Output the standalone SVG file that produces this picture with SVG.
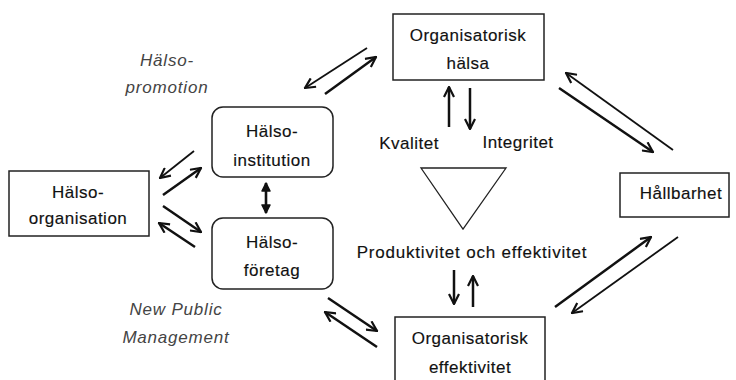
<svg xmlns="http://www.w3.org/2000/svg" width="736" height="380" viewBox="0 0 736 380">
<defs>
<style>
.box{fill:#fff;stroke:#222;stroke-width:1.5}
.t{font-family:"Liberation Sans",Arial,sans-serif;font-size:17px;letter-spacing:0.5px;fill:#111;stroke:#111;stroke-width:0.15;text-anchor:middle}
.it{font-family:"Liberation Sans",Arial,sans-serif;font-size:17px;font-style:italic;letter-spacing:0.8px;fill:#444;text-anchor:middle}
.a{fill:none;stroke:#111;stroke-width:1.8;marker-end:url(#h)}
.ab{fill:none;stroke:#111;stroke-width:2.5;marker-end:url(#h)}
</style>
<marker id="h" viewBox="0 0 12 12" refX="11" refY="6" markerWidth="12" markerHeight="12" markerUnits="userSpaceOnUse" orient="auto">
<path d="M1,1 L11,6 L1,11" fill="none" stroke="#111" stroke-width="2.2"/>
</marker>
<marker id="hf" viewBox="0 0 10 10" refX="9" refY="5" markerWidth="10" markerHeight="10" markerUnits="userSpaceOnUse" orient="auto-start-reverse">
<path d="M1,1 L9,5 L1,9 Z" fill="#111" stroke="#111" stroke-width="1.5" stroke-linejoin="round"/>
</marker>
</defs>
<rect width="736" height="380" fill="#fff"/>

<g id="organisatorisk-halsa">
<rect class="box" x="393" y="14" width="151" height="66"/>
<text class="t" x="468" y="41">Organisatorisk</text>
<text class="t" x="468" y="69">hälsa</text>
</g>

<g id="halso-institution">
<rect class="box" x="212" y="107" width="121" height="70" rx="11"/>
<text class="t" x="272" y="137">Hälso-</text>
<text class="t" x="272" y="166">institution</text>
</g>

<g id="halso-foretag">
<rect class="box" x="212" y="218" width="121" height="71" rx="11"/>
<text class="t" x="272" y="248">Hälso-</text>
<text class="t" x="272" y="276">företag</text>
</g>

<g id="halso-organisation">
<rect class="box" x="9" y="171" width="140" height="65"/>
<text class="t" x="78" y="198">Hälso-</text>
<text class="t" x="78" y="224">organisation</text>
</g>

<g id="hallbarhet">
<rect class="box" x="620" y="173" width="109" height="44"/>
<text class="t" x="681" y="199">Hållbarhet</text>
</g>

<g id="organisatorisk-effektivitet">
<rect class="box" x="395" y="317" width="150" height="70"/>
<text class="t" x="470" y="344">Organisatorisk</text>
<text class="t" x="470" y="373">effektivitet</text>
</g>

<g id="triangle">
<polygon points="421,168 506,168 463,229" fill="none" stroke="#222" stroke-width="1.3"/>
</g>

<g id="labels">
<text class="t" x="409" y="149">Kvalitet</text>
<text class="t" x="518" y="148">Integritet</text>
<text class="t" x="472" y="258" style="letter-spacing:0.8px">Produktivitet och effektivitet</text>
<text class="it" x="167" y="66">Hälso-</text>
<text class="it" x="167" y="93">promotion</text>
<text class="it" x="176" y="315">New Public</text>
<text class="it" x="176" y="343">Management</text>
</g>

<g id="connectors">
<line class="ab" x1="449" y1="127" x2="449" y2="87"/>
<line class="ab" x1="470" y1="88" x2="470" y2="129"/>
<line class="ab" x1="454" y1="270" x2="454" y2="304"/>
<line class="ab" x1="473" y1="307" x2="473" y2="276"/>
<line x1="266" y1="183" x2="266" y2="213" stroke="#111" stroke-width="2.6" marker-start="url(#hf)" marker-end="url(#hf)"/>
<line class="a" x1="194" y1="151" x2="160" y2="178"/>
<line class="ab" x1="163" y1="195" x2="201" y2="168"/>
<line class="ab" x1="163" y1="206" x2="201" y2="232"/>
<line class="ab" x1="195" y1="247" x2="159" y2="223"/>
<line class="a" x1="367" y1="48" x2="305" y2="88"/>
<line class="ab" x1="325" y1="94" x2="376" y2="57"/>
<line class="a" x1="673" y1="150" x2="566" y2="73"/>
<line class="ab" x1="559" y1="88" x2="653" y2="152"/>
<line class="ab" x1="555" y1="307" x2="651" y2="237"/>
<line class="a" x1="678" y1="237" x2="572" y2="313"/>
<line class="ab" x1="328" y1="298" x2="377" y2="331"/>
<line class="ab" x1="377" y1="347" x2="325" y2="312"/>
</g>
</svg>
